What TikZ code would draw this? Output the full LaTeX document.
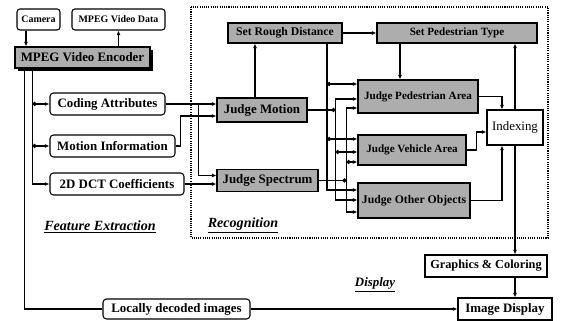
\documentclass[tikz,border=0pt]{standalone}
\usepackage{fontspec}
\setmainfont{Liberation Serif}
\usetikzlibrary{positioning,calc,arrows.meta,shadows}

\begin{document}
\begin{tikzpicture}[x=0.03cm, y=-0.03cm,
        src/.style={rectangle, rounded corners=2.5pt, draw=black, line width=0.9pt, fill=white, minimum height=0.63cm, inner sep=1pt, font=\bfseries\fontsize{8.5}{10}\selectfont},
        feat/.style={rectangle, rounded corners=3pt, draw=black, line width=0.9pt, fill=white, minimum height=0.66cm, inner sep=1pt, font=\bfseries\fontsize{11}{13}\selectfont},
        gbox/.style={rectangle, draw=black, line width=0.9pt, fill=black!32, inner sep=1pt, font=\bfseries\fontsize{10}{12}\selectfont},
        wbox/.style={rectangle, draw=black, line width=0.9pt, fill=white, minimum height=0.66cm, inner sep=1pt, font=\bfseries\fontsize{10.5}{12}\selectfont},
        part/.style={font=\bfseries\itshape\fontsize{12}{14}\selectfont},
        line/.style={line width=0.9pt},
        link/.style={line width=0.9pt, -{Latex[length=4pt,width=3.5pt]}},
        both/.style={line width=0.9pt, {Latex[length=4pt,width=3.5pt]}-{Latex[length=4pt,width=3.5pt]}},
        branch/.style={line width=0.9pt, {Circle[length=3.5pt]}-{Latex[length=4pt,width=3.5pt]}},
        merge/.style={line width=0.9pt, -{Circle[length=3.5pt]}},
        frame/.style={densely dotted, line width=0.9pt}
    ]
        \useasboundingbox (0,0) rectangle (561,321);

        % Source
        \node[src, minimum width=1.29cm] (camera) at (38.5,19.5) {Camera};
        \node[src, minimum width=2.79cm] (mpegdata) at (118.5,19.5) {MPEG Video Data};
        \node[gbox, minimum width=4.05cm, minimum height=0.63cm, font=\bfseries\fontsize{11}{13}\selectfont,
            drop shadow={shadow xshift=2.5pt, shadow yshift=-2.5pt, fill=black, opacity=1}] (encoder) at (82.5,57.5) {MPEG Video Encoder};

        % Feature Extraction
        \node[feat, minimum width=3.45cm] (coding) at (107.5,104) {Coding Attributes};
        \node[feat, minimum width=3.75cm] (motion) at (112.5,146) {Motion Information};
        \node[feat, minimum width=4.02cm] (dct) at (117,184) {2D DCT Coefficients};
        \node[part] (featlabel) at (100,227) {\underline{Feature Extraction}};

        % Recognition
        \draw[frame] (191,7) rectangle (548,238);
        \node[gbox, minimum width=3.42cm, minimum height=0.6cm] (rough) at (285,33) {Set Rough Distance};
        \node[gbox, minimum width=4.8cm, minimum height=0.6cm, font=\bfseries\fontsize{9.5}{11}\selectfont] (pedtype) at (457,33) {Set Pedestrian Type};
        \node[gbox, minimum width=2.7cm, minimum height=0.72cm, font=\bfseries\fontsize{11}{13}\selectfont] (jmotion) at (262,110) {Judge Motion};
        \node[gbox, minimum width=3.03cm, minimum height=0.66cm, font=\bfseries\fontsize{11}{13}\selectfont] (jspec) at (267.5,180.5) {Judge Spectrum};
        \node[gbox, minimum width=3.6cm, minimum height=0.99cm, font=\bfseries\fontsize{9.5}{11}\selectfont] (jped) at (418,96.5) {Judge Pedestrian Area};
        \node[gbox, minimum width=3.24cm, minimum height=0.9cm, font=\bfseries\fontsize{9.5}{11}\selectfont] (jveh) at (412,150) {Judge Vehicle Area};
        \node[gbox, minimum width=3.36cm, minimum height=1.05cm] (jother) at (414,200.5) {Judge Other Objects};
        \node[wbox, minimum width=1.68cm, minimum height=1.05cm, font=\fontsize{11}{13}\selectfont] (indexing) at (515,127.5) {Indexing};
        \node[part] (recoglabel) at (243,225) {\underline{Recognition}};

        % Display
        \node[wbox, minimum width=3.66cm] (graphics) at (486,266) {Graphics \& Coloring};
        \node[wbox, minimum width=2.82cm, font=\bfseries\fontsize{11}{13}\selectfont] (imgdisp) at (505,309) {Image Display};
        \node[feat, minimum width=4.41cm, minimum height=0.6cm] (decoded) at (176.5,309) {Locally decoded images};
        \node[part, font=\bfseries\itshape\fontsize{11}{13}\selectfont] (displabel) at (375,285) {\underline{Display}};

        % Encoder in and out
        \coordinate (camout) at ($(camera.south)+(-12.5,0)$);
        \draw[link] (camout) -- (camout |- encoder.north);
        \draw[link] (encoder.north -| mpegdata.south) -- (mpegdata.south);
        \coordinate (declink) at ($(encoder.south west)+(10,0)$);
        \coordinate (featbus) at ($(encoder.south west)+(18,0)$);
        \draw[line] (declink) |- (decoded.west);
        \draw[link] (decoded.east) -- (imgdisp.west);
        \draw[link] (featbus) |- (dct.west);
        \draw[branch] (featbus |- coding.west) -- (coding.west);
        \draw[branch] (featbus |- motion.west) -- (motion.west);

        % Features to judges
        \coordinate (spin) at ($(jspec.west)+(0,-5)$);
        \coordinate (mtin) at ($(jmotion.west)+(0,6)$);
        \coordinate (cbr) at ($(coding.east)+(33,0)$);
        \draw[link] (coding.east) -- (coding.east -| jmotion.west);
        \draw[link] (cbr) |- (spin);
        \draw[link] (motion.east) -- ++(5,0) |- (mtin);
        \draw[link] (dct.east) -- (dct.east -| jspec.west);

        % Set boxes
        \coordinate (roughin) at ($(jmotion.north)+(-7,0)$);
        \draw[link] (roughin) -- (roughin |- rough.south);
        \draw[link] (rough.east) -- (pedtype.west);
        \coordinate (typeout) at ($(pedtype.south)+(-57,0)$);
        \draw[link] (typeout) -- (typeout |- jped.north);

        % Buses
        \coordinate (busA) at ($(rough.south)+(42,0)$);
        \coordinate (busB) at ($(jmotion.east)+(28,0)$);
        \coordinate (busC) at ($(jspec.east)+(28,0)$);
        \coordinate (ped1) at ($(jped.west)+(0,-12.5)$);
        \coordinate (ped2) at ($(jped.west)+(0,2.5)$);
        \coordinate (ped3) at ($(jped.west)+(0,11.5)$);
        \coordinate (veh1) at ($(jveh.west)+(0,-11)$);
        \coordinate (veh2) at ($(jveh.west)+(0,2)$);
        \coordinate (veh3) at ($(jveh.west)+(0,12)$);
        \coordinate (oth1) at ($(jother.west)+(0,-10.5)$);
        \coordinate (oth2) at ($(jother.west)+(0,-0.5)$);
        \coordinate (oth3) at ($(jother.west)+(0,11.5)$);
        \draw[link] (busA) |- (oth1);
        \draw[branch] (busA |- ped1) -- (ped1);
        \draw[branch] (busA |- veh1) -- (veh1);
        \draw[both] (ped2) -| (busB |- oth2) -- (oth2);
        \draw[merge] (jmotion.east) -- (busB);
        \draw[branch] (busB |- veh2) -- (veh2);
        \draw[both] (ped3) -| (busC |- oth3) -- (oth3);
        \draw[merge] (jspec.east) -- (busC);
        \draw[branch] (busC |- veh3) -- (veh3);

        % Indexing
        \coordinate (idxin) at ($(indexing.north)+(-13,0)$);
        \coordinate (idxup) at ($(indexing.south)+(-13,0)$);
        \draw[link] (jped.east) -| (idxin);
        \draw[link] (jveh.east) -- ++(10,0) |- ($(indexing.west)+(0,4.5)$);
        \draw[link] (jother.east) -| (idxup);
        \draw[link] (indexing.north) -- (indexing.north |- pedtype.south);
        \draw[link] (indexing.south) -- (indexing.south |- graphics.north);
        \draw[link] (graphics.south -| indexing.south) -- (indexing.south |- imgdisp.north);
    \end{tikzpicture}
\end{document}
